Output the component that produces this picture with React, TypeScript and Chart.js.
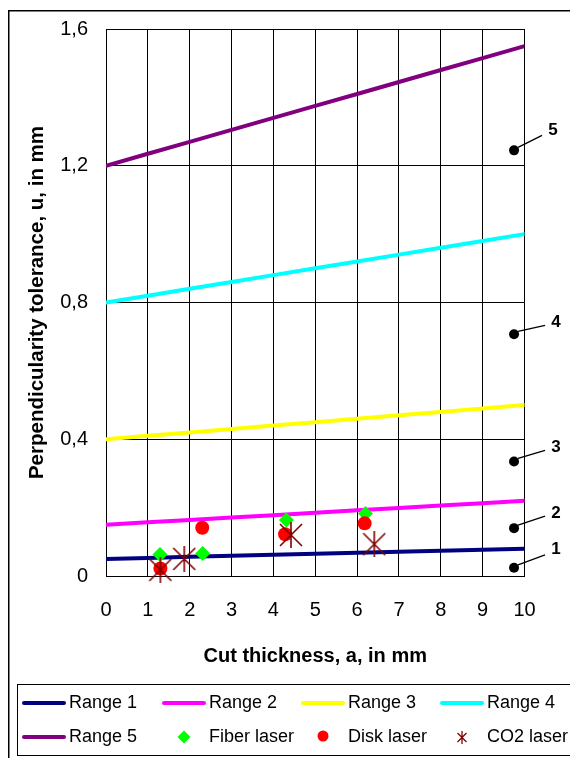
import React, { useEffect, useRef } from 'react';
import { Chart, registerables } from 'chart.js';

Chart.register(...registerables);

// ---- data ----
const thickness = [0, 1, 2, 3, 4, 5, 6, 7, 8, 9, 10];
const range1 = [0.05, 0.053, 0.056, 0.059, 0.062, 0.065, 0.068, 0.071, 0.074, 0.077, 0.08];
const range2 = [0.15, 0.157, 0.164, 0.171, 0.178, 0.185, 0.192, 0.199, 0.206, 0.213, 0.22];
const range3 = [0.4, 0.41, 0.42, 0.43, 0.44, 0.45, 0.46, 0.47, 0.48, 0.49, 0.5];
const range4 = [0.8, 0.82, 0.84, 0.86, 0.88, 0.9, 0.92, 0.94, 0.96, 0.98, 1.0];
const range5 = [1.2, 1.235, 1.27, 1.305, 1.34, 1.375, 1.41, 1.445, 1.48, 1.515, 1.55];
const rangeNames = ['Range 1', 'Range 2', 'Range 3', 'Range 4', 'Range 5'];
const rangeColors = ['#000080', '#FF00FF', '#FFFF00', '#00FFFF', '#800080'];

const fiberX = [1.29, 2.31, 4.31, 6.2];
const fiberY = [0.063, 0.066, 0.164, 0.183];
const diskX = [1.3, 2.3, 4.28, 6.18];
const diskY = [0.022, 0.141, 0.122, 0.154];
const co2X = [1.3, 1.87, 4.42, 6.41];
const co2Y = [0.018, 0.05, 0.12, 0.093];
const markerNames = ['Fiber laser', 'Disk laser', 'CO2 laser'];

const calloutX = [9.75, 9.75, 9.75, 9.75, 9.75];
const calloutY = [0.024, 0.14, 0.335, 0.707, 1.245];
const calloutLabels = ['1', '2', '3', '4', '5'];

const xTicks = [0, 1, 2, 3, 4, 5, 6, 7, 8, 9, 10];
const yTicks = [0, 0.4, 0.8, 1.2, 1.6];
const yTickLabels = ['0', '0,4', '0,8', '1,2', '1,6'];

const xTitle = 'Cut thickness, a, in mm';
const yTitle = 'Perpendicularity tolerance, u, in mm';

const FONT = "'Liberation Sans', Arial, sans-serif";
const W = 570;
const H = 750;
const STAR_COLOR = '#800000';

function makeStar(w: number, h: number, lw: number): HTMLCanvasElement {
  const c = document.createElement('canvas');
  c.width = w;
  c.height = h;
  const ctx = c.getContext('2d')!;
  ctx.strokeStyle = STAR_COLOR;
  ctx.lineWidth = lw;
  ctx.beginPath();
  ctx.moveTo(w / 2, 0);
  ctx.lineTo(w / 2, h);
  const m = (h - (w - 2)) / 2;
  ctx.moveTo(1, m);
  ctx.lineTo(w - 1, h - m);
  ctx.moveTo(w - 1, m);
  ctx.lineTo(1, h - m);
  ctx.stroke();
  return c;
}

export default function App() {
  const ref = useRef<HTMLCanvasElement | null>(null);

  useEffect(() => {
    if (!ref.current) return;
    Chart.defaults.font.family = FONT;
    const star = makeStar(24, 26, 1.6);

    const ranges = [range1, range2, range3, range4, range5];
    const lineSets = ranges.map((vals, i) => ({
      label: rangeNames[i],
      data: thickness.map((x, j) => ({ x, y: vals[j] })),
      showLine: true,
      borderColor: rangeColors[i],
      backgroundColor: rangeColors[i],
      borderWidth: 4,
      borderCapStyle: 'round' as const,
      pointRadius: 0,
      tension: 0,
      fill: false,
      order: 10 + i,
    }));

    const datasets: any[] = [
      ...lineSets,
      {
        label: 'callouts',
        data: calloutX.map((x, i) => ({ x, y: calloutY[i] })),
        pointStyle: 'circle',
        pointRadius: 5,
        backgroundColor: '#000',
        borderWidth: 0,
        clip: false,
        order: 4,
      },
      {
        label: markerNames[0],
        data: fiberX.map((x, i) => ({ x, y: fiberY[i] })),
        pointStyle: 'rectRot',
        pointRadius: 7.5,
        backgroundColor: '#00FF00',
        borderWidth: 0,
        clip: false,
        order: 3,
      },
      {
        label: markerNames[1],
        data: diskX.map((x, i) => ({ x, y: diskY[i] })),
        pointStyle: 'circle',
        pointRadius: 7,
        backgroundColor: '#FF0000',
        borderWidth: 0,
        clip: false,
        order: 2,
      },
      {
        label: markerNames[2],
        data: co2X.map((x, i) => ({ x, y: co2Y[i] })),
        pointStyle: star,
        pointRadius: 12,
        borderWidth: 0,
        clip: false,
        order: 1,
      },
    ];

    const framePlugin = {
      id: 'frame',
      beforeDraw(chart: any) {
        const ctx = chart.ctx;
        ctx.save();
        ctx.strokeStyle = '#000';
        ctx.lineWidth = 1.5;
        ctx.beginPath();
        ctx.moveTo(0.75, H + 5);
        ctx.lineTo(0.75, 2.75);
        ctx.lineTo(W + 5, 2.75);
        ctx.stroke();
        ctx.restore();
      },
    };

    // label offsets (pixels) relative to each callout dot: [textDx, textDy, lineEndDx, lineEndDy]
    const calloutOffsets = [
      [42, -18, 31, -13],
      [42, -15, 31, -12],
      [42, -14, 31, -11],
      [42, -12, 31, -9],
      [39, -20, 28, -15],
    ];

    const calloutPlugin = {
      id: 'callouts',
      afterDatasetsDraw(chart: any) {
        const ctx = chart.ctx;
        const xs = chart.scales.x;
        const ys = chart.scales.y;
        ctx.save();
        ctx.strokeStyle = '#000';
        ctx.fillStyle = '#000';
        ctx.lineWidth = 1.3;
        ctx.font = `bold 17px ${FONT}`;
        ctx.textAlign = 'center';
        ctx.textBaseline = 'middle';
        calloutLabels.forEach((lab, i) => {
          const px = xs.getPixelForValue(calloutX[i]);
          const py = ys.getPixelForValue(calloutY[i]);
          const [tdx, tdy, ldx, ldy] = calloutOffsets[i];
          ctx.beginPath();
          ctx.moveTo(px + 4, py - 3);
          ctx.lineTo(px + ldx, py + ldy);
          ctx.stroke();
          ctx.fillText(lab, px + tdx, py + tdy);
        });
        ctx.restore();
      },
    };

    const legendPlugin = {
      id: 'customLegend',
      afterDraw(chart: any) {
        const ctx = chart.ctx;
        ctx.save();
        ctx.strokeStyle = '#000';
        ctx.lineWidth = 1;
        ctx.strokeRect(9.5, 676.5, 555, 71);
        const cols = [15, 155, 294, 433];
        const rows = [694, 728];
        ctx.font = `18px ${FONT}`;
        ctx.textBaseline = 'middle';
        ctx.textAlign = 'left';
        const items: { kind: string; label: string; color?: string }[] = [
          ...rangeNames.map((n, i) => ({ kind: 'line', label: n, color: rangeColors[i] })),
          { kind: 'diamond', label: markerNames[0] },
          { kind: 'circle', label: markerNames[1] },
          { kind: 'star', label: markerNames[2] },
        ];
        items.forEach((it, k) => {
          const cx = cols[k % 4];
          const cy = rows[Math.floor(k / 4)];
          const mid = cx + 21;
          if (it.kind === 'line') {
            ctx.strokeStyle = it.color;
            ctx.lineWidth = 4;
            ctx.lineCap = 'round';
            ctx.beginPath();
            ctx.moveTo(cx + 1, cy + 1);
            ctx.lineTo(cx + 41, cy + 1);
            ctx.stroke();
          } else if (it.kind === 'diamond') {
            ctx.fillStyle = '#00FF00';
            ctx.beginPath();
            ctx.moveTo(mid, cy + 1 - 6.5);
            ctx.lineTo(mid + 6.5, cy + 1);
            ctx.lineTo(mid, cy + 1 + 6.5);
            ctx.lineTo(mid - 6.5, cy + 1);
            ctx.closePath();
            ctx.fill();
          } else if (it.kind === 'circle') {
            ctx.fillStyle = '#FF0000';
            ctx.beginPath();
            ctx.arc(mid, cy, 5.5, 0, Math.PI * 2);
            ctx.fill();
          } else if (it.kind === 'star') {
            ctx.strokeStyle = STAR_COLOR;
            ctx.lineWidth = 1.3;
            ctx.lineCap = 'butt';
            ctx.beginPath();
            ctx.moveTo(mid, cy - 5);
            ctx.lineTo(mid, cy + 8);
            ctx.moveTo(mid - 4.5, cy - 3);
            ctx.lineTo(mid + 4.5, cy + 6);
            ctx.moveTo(mid + 4.5, cy - 3);
            ctx.lineTo(mid - 4.5, cy + 6);
            ctx.stroke();
          }
          ctx.fillStyle = '#000';
          ctx.fillText(it.label, cx + 46, cy + 1);
        });
        ctx.restore();
      },
    };

    const chart = new Chart(ref.current, {
      type: 'scatter',
      data: { datasets },
      options: {
        animation: false,
        responsive: false,
        devicePixelRatio: 1,
        layout: { padding: { left: 0, top: 21, right: 53.5, bottom: 80 } },
        plugins: { legend: { display: false }, tooltip: { enabled: false } },
        scales: {
          x: {
            type: 'linear',
            min: 0,
            max: 10,
            afterBuildTicks: (s: any) => {
              s.ticks = xTicks.map((v) => ({ value: v }));
            },
            afterFit: (s: any) => {
              s.height = 102;
              s.paddingLeft = 0;
              s.paddingRight = 0;
            },
            grid: { color: '#000', lineWidth: 1, drawTicks: false },
            border: { color: '#000', width: 1 },
            ticks: {
              color: '#000',
              font: { size: 20 },
              padding: 22,
              maxRotation: 0,
              autoSkip: false,
              callback: (v: any, i: number) => String(xTicks[i]),
            },
            title: {
              display: true,
              text: xTitle,
              color: '#000',
              font: { size: 20, weight: 'bold' },
              padding: { top: 0, bottom: 10 },
            },
          },
          y: {
            type: 'linear',
            min: 0,
            max: 1.6,
            afterBuildTicks: (s: any) => {
              s.ticks = yTicks.map((v) => ({ value: v }));
            },
            afterFit: (s: any) => {
              s.width = 98;
              s.paddingTop = 0;
              s.paddingBottom = 0;
            },
            grid: { color: '#000', lineWidth: 1, drawTicks: false },
            border: { color: '#000', width: 1 },
            ticks: {
              color: '#000',
              font: { size: 20 },
              padding: 18,
              autoSkip: false,
              callback: (v: any, i: number) => yTickLabels[i],
            },
            title: {
              display: true,
              text: yTitle,
              color: '#000',
              font: { size: 20.5, weight: 'bold' },
              padding: { top: 17, bottom: 0 },
            },
          },
        },
      } as any,
      plugins: [framePlugin, calloutPlugin, legendPlugin],
    });
    return () => chart.destroy();
  }, []);

  return (
    <div style={{ width: W, height: H, position: 'relative' }}>
      <canvas ref={ref} width={W} height={H} style={{ display: 'block', width: W, height: H }} />
    </div>
  );
}
